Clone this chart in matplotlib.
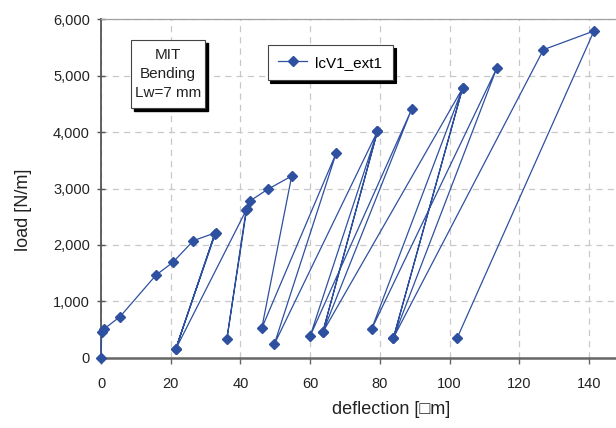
import matplotlib
matplotlib.use("Agg")
import matplotlib.pyplot as plt
from matplotlib.patches import Rectangle
from matplotlib.ticker import FuncFormatter

plt.rcParams['font.family'] = ['Liberation Sans', 'DejaVu Sans']

# flèche mesurée [µm] et charge [N/m], dans l'ordre des cycles charge/décharge
deflection = [0, 0.2, 0.9, 5.5, 15.8, 20.6, 26.5, 32.9, 21.4, 32.6, 21.4,
              41.8, 36.1, 41.6, 42.7, 47.8, 54.7, 46.1, 67.5, 49.7, 79.3,
              60.0, 89.1, 63.6, 79.3, 63.6, 103.7, 77.6, 113.5, 83.9, 103.7,
              83.9, 126.9, 141.4, 102.2]
load = [0, 460, 510, 730, 1466, 1690, 2075, 2217, 148, 2190, 148,
        2636, 331, 2610, 2778, 2985, 3221, 520, 3635, 237, 4014,
        385, 4404, 450, 4014, 450, 4777, 503, 5131, 355, 4777,
        355, 5461, 5793, 355]

x_ticks = [0, 20, 40, 60, 80, 100, 120, 140]
y_ticks = [0, 1000, 2000, 3000, 4000, 5000, 6000]

bleu = '#2E50A0'
W, H = 616, 428

fig = plt.figure(figsize=(W / 100, H / 100), dpi=100)
ax = fig.add_axes([101 / W, 70.3 / H, 557.8 / W, 338.4 / H])

ax.plot(deflection, load, color=bleu, linewidth=0.9, marker='D',
        markersize=5.5, markerfacecolor=bleu, markeredgecolor=bleu,
        label='lcV1_ext1', clip_on=False, zorder=3)

ax.set_xlim(0, 160)
ax.set_ylim(0, 6000)
ax.set_xticks(x_ticks)
ax.set_yticks(y_ticks)
ax.yaxis.set_major_formatter(FuncFormatter(lambda v, p: '{:,.0f}'.format(v)))

ax.grid(True, color='#c8c8c8', linestyle=(0, (5, 4)), linewidth=0.9)
ax.set_axisbelow(True)

ax.spines['left'].set_color('#555555')
ax.spines['left'].set_linewidth(1.3)
ax.spines['bottom'].set_color('#666666')
ax.spines['bottom'].set_linewidth(1.8)
ax.spines['top'].set_color('#a0a0a0')
ax.spines['top'].set_linewidth(0.9)
ax.spines['right'].set_visible(False)

ax.tick_params(axis='y', direction='inout', length=6, width=1, color='#555555',
               labelsize=10.5, labelcolor='#222222', pad=5)
ax.tick_params(axis='x', direction='out', length=4, width=1, color='#666666',
               labelsize=10.5, labelcolor='#222222', pad=10)

ax.set_xlabel('deflection [\u25a1m]', fontsize=13, color='#222222')
ax.set_ylabel('load [N/m]', fontsize=13, color='#222222')
ax.xaxis.set_label_coords((391 - 101) / 557.8, -(401 - 357.7) / 338.4)
ax.yaxis.set_label_coords(-(101 - 32) / 557.8, (357.7 - 210) / 338.4)

# cadre de texte avec ombre portée
bx0, by0, bx1, by1 = 130.7, 40, 205.3, 108.3
fig.patches.append(Rectangle(((bx0 + 3) / W, 1 - (by1 + 3) / H),
                             (bx1 - bx0) / W, (by1 - by0) / H,
                             transform=fig.transFigure, facecolor='black',
                             edgecolor='black', zorder=5))
fig.patches.append(Rectangle((bx0 / W, 1 - by1 / H),
                             (bx1 - bx0) / W, (by1 - by0) / H,
                             transform=fig.transFigure, facecolor='white',
                             edgecolor='#444444', linewidth=0.8, zorder=6))
fig.text((bx0 + bx1) / 2 / W, 1 - (by0 + by1) / 2 / H, 'MIT\nBending\nLw=7 mm',
         ha='center', va='center', fontsize=11, color='#222222',
         linespacing=1.45, zorder=7)

leg = ax.legend(loc='upper left', bbox_to_anchor=(267.7 / W, 1 - 45 / H),
                bbox_transform=fig.transFigure, fontsize=11, fancybox=False,
                frameon=True, edgecolor='#444444', framealpha=1,
                handlelength=1.9, handletextpad=0.5, borderpad=0.7,
                borderaxespad=0,
                shadow={'facecolor': 'black', 'edgecolor': 'black', 'alpha': 1})
leg.get_frame().set_linewidth(0.8)

fig.savefig('out.png', dpi=100)
